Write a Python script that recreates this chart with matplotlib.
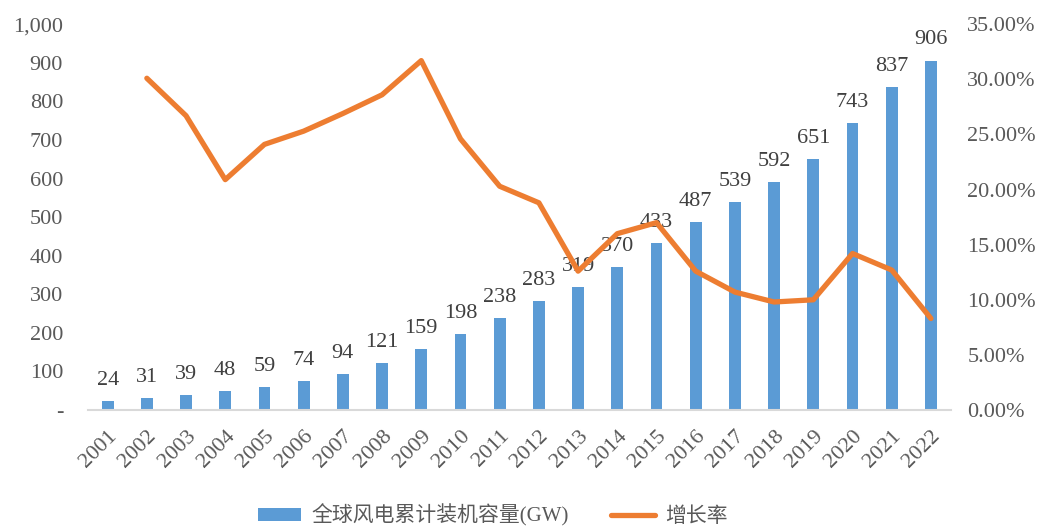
import numpy as np
import matplotlib.pyplot as plt
from matplotlib.ticker import FuncFormatter

plt.rcParams['font.family'] = ['Liberation Serif', 'Noto Sans CJK SC']

years = [str(y) for y in range(2001, 2023)]
capacity = [24, 31, 39, 48, 59, 74, 94, 121, 159, 198, 238, 283, 319, 370, 433,
            487, 539, 592, 651, 743, 837, 906]
growth_years = years[1:]
growth = [30.1, 26.7, 20.9, 24.1, 25.3, 26.9, 28.6, 31.7, 24.6, 20.3, 18.8,
          12.6, 16.0, 17.0, 12.6, 10.7, 9.8, 10.0, 14.2, 12.7, 8.3]

bar_color = '#5B9BD5'
line_color = '#ED7D31'
txt_color = '#404040'
tick_color = '#595959'

fig = plt.figure(figsize=(10.48, 5.27), dpi=100)
ax = fig.add_axes([0.084, 0.222, 0.823, 0.732])
x = np.arange(len(years))
ax.bar(x, capacity, width=0.3, color=bar_color, label='全球风电累计装机容量(GW)', zorder=2)
for xi, v in zip(x, capacity):
    ax.annotate(str(v), xy=(xi, v), xytext=(0, 8), textcoords='offset points',
                ha='center', va='bottom', fontsize=16, color=txt_color, zorder=4)

ax.set_xlim(-0.5, len(years) - 0.5)
ax.set_ylim(0, 1000)
ax.set_yticks(np.arange(0, 1001, 100))
ax.yaxis.set_major_formatter(FuncFormatter(lambda v, p: '-' if v == 0 else '{:,.0f}'.format(v)))
ax.set_xticks(x)
ax.set_xticklabels(years, rotation=45, ha='right', rotation_mode='anchor')
for s in ['top', 'right', 'left']:
    ax.spines[s].set_visible(False)
ax.spines['bottom'].set_color('#D9D9D9')
ax.spines['bottom'].set_linewidth(1.5)
ax.tick_params(axis='both', length=0, labelsize=16, colors=tick_color)
ax.tick_params(axis='y', pad=18)
ax.tick_params(axis='x', pad=12)

ax2 = ax.twinx()
gx = x[1:]
ax2.plot(gx, growth, color=line_color, linewidth=3.8, solid_capstyle='round', label='增长率', zorder=3)
ax2.set_ylim(0, 35)
ax2.set_yticks(np.arange(0, 35.1, 5))
ax2.yaxis.set_major_formatter(FuncFormatter(lambda v, p: '{:.2f}%'.format(v)))
for s in ['top', 'right', 'left', 'bottom']:
    ax2.spines[s].set_visible(False)
ax2.tick_params(axis='y', length=0, labelsize=16, colors=tick_color, pad=12)

h1, l1 = ax.get_legend_handles_labels()
h2, l2 = ax2.get_legend_handles_labels()
leg = fig.legend(h1 + h2, l1 + l2, loc='lower center', bbox_to_anchor=(0.47, -0.035), ncol=2,
                 frameon=False, fontsize=15, handlelength=2.1, handleheight=0.6,
                 columnspacing=2.0, handletextpad=0.5)
for t in leg.get_texts():
    t.set_color(tick_color)

fig.savefig('out.png', dpi=100)
